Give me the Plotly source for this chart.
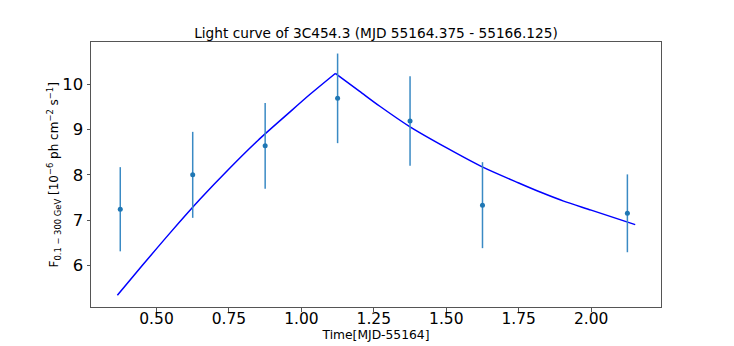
import plotly.graph_objects as go

# Pontos observados (MJD - 55164)
time_pts = [0.375, 0.625, 0.875, 1.125, 1.375, 1.625, 2.125]
flux_pts = [7.24, 8.00, 8.64, 9.69, 9.19, 7.33, 7.15]
flux_err = [0.93, 0.95, 0.95, 0.99, 0.99, 0.95, 0.86]

# Curva do modelo (pico em ~1.117)
model_t = [0.365, 0.45, 0.55, 0.65, 0.75, 0.85, 0.95, 1.03, 1.117,
           1.20, 1.272, 1.375, 1.50, 1.626, 1.75, 1.824, 1.905, 2.0, 2.152]
model_f = [5.34, 5.99, 6.74, 7.46, 8.13, 8.76, 9.33, 9.78, 10.24,
           9.85, 9.51, 9.06, 8.60, 8.17, 7.82, 7.62, 7.42, 7.22, 6.90]
peak_idx = 8

x_ticks = [0.5, 0.75, 1.0, 1.25, 1.5, 1.75, 2.0]
y_ticks = [6, 7, 8, 9, 10]

FONT = 'DejaVu Sans'
Y_LABEL = 'F<sub>0.1 − 300 GeV</sub> [10<sup>−6</sup> ph cm<sup>−2</sup> s<sup>−1</sup>]'

fig = go.Figure()

# subida e decaimento separados para manter o pico anguloso
for seg in (slice(0, peak_idx + 1), slice(peak_idx, None)):
    fig.add_trace(go.Scatter(
        x=model_t[seg], y=model_f[seg], mode='lines',
        line=dict(color='#0000ff', width=1.5, shape='spline', smoothing=0.8),
        showlegend=False, hoverinfo='skip'
    ))

fig.add_trace(go.Scatter(
    x=time_pts, y=flux_pts, mode='markers',
    marker=dict(size=5, color='#1f77b4'),
    error_y=dict(type='data', array=flux_err, color='#3a8ac4', thickness=1.5, width=0),
    showlegend=False
))

axis_common = dict(
    showgrid=False, zeroline=False, automargin=False,
    showline=True, linecolor='#555555', linewidth=1, mirror=True,
    ticks='outside', ticklen=3.5, tickcolor='#555555', tickwidth=1,
)

# título do eixo y como anotação para ficar mais perto dos ticks
fig.add_annotation(
    text=Y_LABEL, textangle=-90, showarrow=False,
    xref='paper', yref='paper', x=-0.065, y=0.5,
    xanchor='center', yanchor='middle', font=dict(size=12)
)

# margens compensam o deslocamento de 8px do body da página
fig.update_layout(
    width=734, height=346,
    paper_bgcolor='white', plot_bgcolor='white',
    font=dict(family=FONT, color='black'),
    margin=dict(l=83, r=81, t=34, b=47),
    title=dict(text='Light curve of 3C454.3 (MJD 55164.375 - 55166.125)',
               font=dict(size=13.7), x=0.5, xref='paper', xanchor='center',
               y=1 - 25 / 346, yanchor='middle', yref='container'),
    xaxis=dict(
        **axis_common,
        range=[0.274, 2.241],
        tickvals=x_ticks, ticktext=[f'{v:.2f}' for v in x_ticks],
        tickfont=dict(size=15.5), ticklabelstandoff=-6,
        title=dict(text='Time[MJD-55164]', font=dict(size=12.3), standoff=0),
    ),
    yaxis=dict(
        **axis_common,
        range=[5.08, 10.935],
        tickvals=y_ticks,
        tickfont=dict(size=16.5),
    ),
)

fig.write_html("out.html")
